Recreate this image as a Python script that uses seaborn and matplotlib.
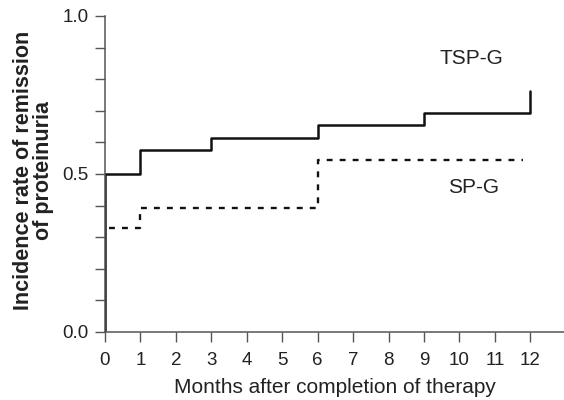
import numpy as np
import pandas as pd
import matplotlib
matplotlib.use("Agg")
import matplotlib.pyplot as plt
import seaborn as sns
from matplotlib.ticker import MultipleLocator, FixedLocator

# ---- datos ----
tsp_meses = [0, 0, 1, 3, 6, 9, 12, 12]
tsp_tasa = [0.0, 0.50, 0.577, 0.615, 0.655, 0.692, 0.692, 0.764]

sp_meses = [0.1, 1, 6, 11.8]
sp_tasa = [0.329, 0.393, 0.544, 0.544]

x_ticks = list(range(0, 13))
y_ticks = [0.0, 0.5, 1.0]

sns.set_style("ticks")
plt.rcParams['font.family'] = ['Liberation Sans', 'DejaVu Sans']

COLOR_TXT = '#222222'
COLOR_EJE = '#555555'

fig = plt.figure(figsize=(5.64, 4.0), dpi=100)
ax = fig.add_axes([105 / 564, 68 / 400, 459 / 564, 316 / 400])

df_tsp = pd.DataFrame({'mes': tsp_meses, 'tasa': tsp_tasa})
df_sp = pd.DataFrame({'mes': sp_meses, 'tasa': sp_tasa})

sns.lineplot(data=df_tsp, x='mes', y='tasa', estimator=None, sort=False,
             drawstyle='steps-post', color='#111111', linewidth=1.8, ax=ax)
sns.lineplot(data=df_sp, x='mes', y='tasa', estimator=None, sort=False,
             drawstyle='steps-post', color='#111111', linewidth=1.7,
             linestyle=(0, (2.5, 3.0)), ax=ax)

ax.text(10.35, 0.867, 'TSP-G', ha='center', va='center', fontsize=15, color=COLOR_TXT)
ax.text(10.4, 0.456, 'SP-G', ha='center', va='center', fontsize=15, color=COLOR_TXT)

ax.set_xlim(0, 12.95)
ax.set_ylim(0, 1.0)
ax.xaxis.set_major_locator(FixedLocator(x_ticks))
ax.yaxis.set_major_locator(FixedLocator(y_ticks))
ax.yaxis.set_minor_locator(MultipleLocator(0.1))
ax.set_yticklabels([f'{v:.1f}' for v in y_ticks])

ax.tick_params(axis='both', which='both', direction='out', length=7,
               width=1.0, color=COLOR_EJE, labelsize=13.5, labelcolor=COLOR_TXT)
ax.tick_params(axis='x', pad=7.5)
ax.tick_params(axis='y', pad=5)

sns.despine(ax=ax)
for lado in ['left', 'bottom']:
    ax.spines[lado].set_color(COLOR_EJE)
    ax.spines[lado].set_linewidth(1.1)

ax.set_xlabel('Months after completion of therapy', fontsize=15, color=COLOR_TXT)
ax.set_ylabel('Incidence rate of remission\nof proteinuria', fontsize=15.5,
              fontweight='bold', color=COLOR_TXT, linespacing=0.9)
ax.xaxis.set_label_coords(0.5, -0.146)
ax.yaxis.set_label_coords(-0.112, 0.51)

fig.savefig('out.png', dpi=100)
